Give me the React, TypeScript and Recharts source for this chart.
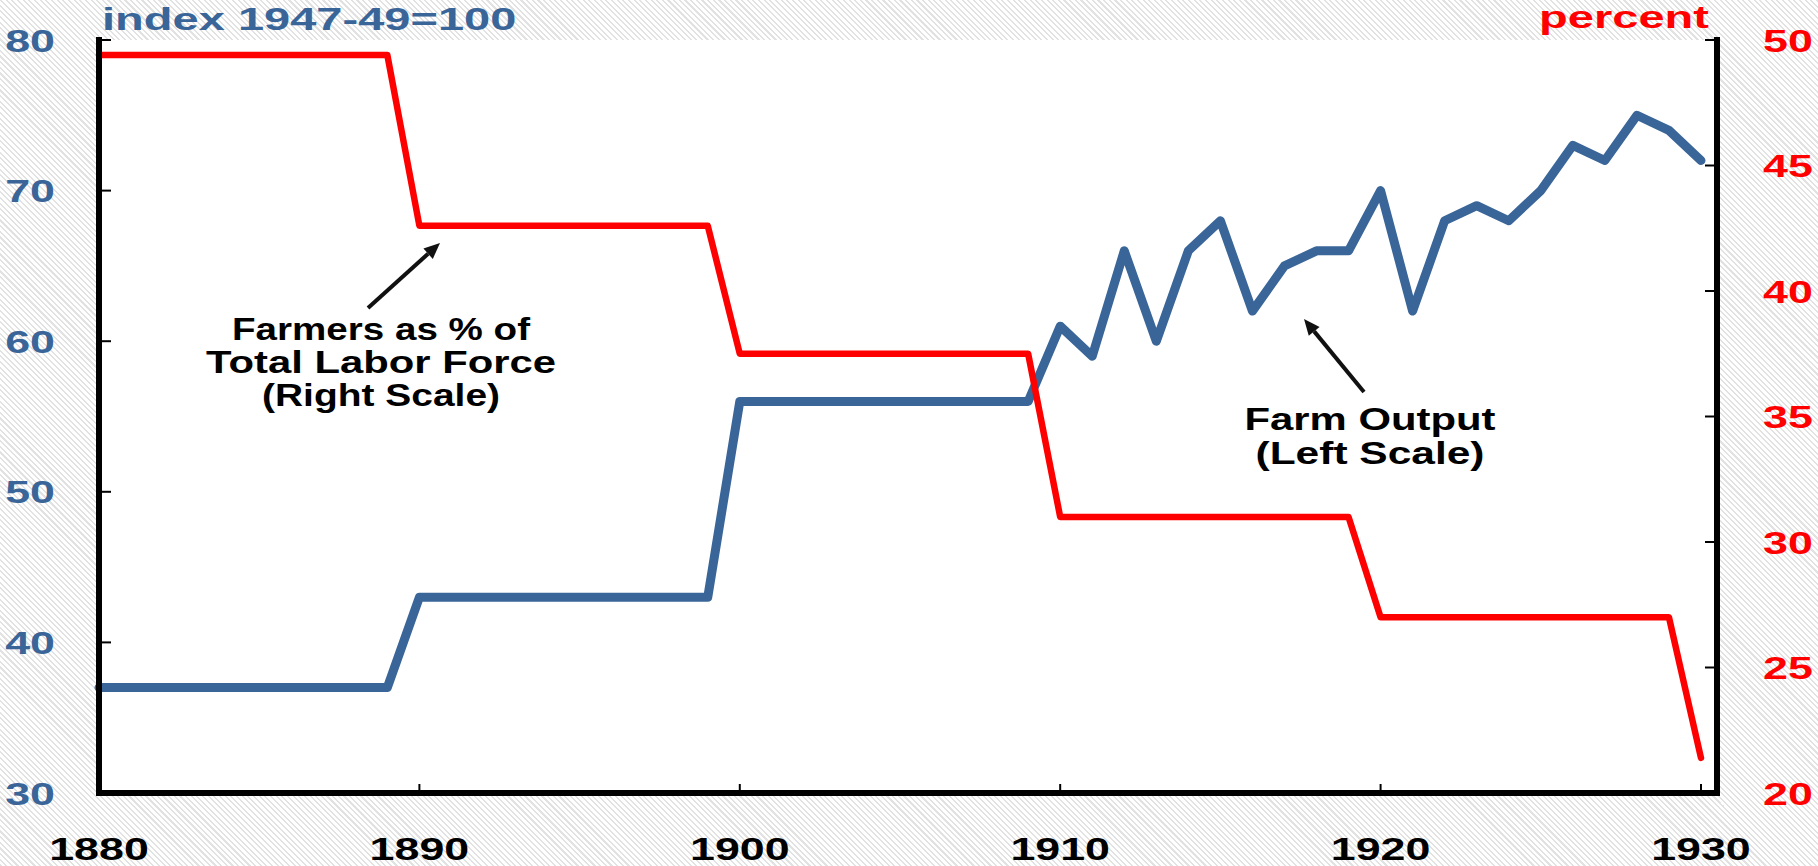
import React from 'react';
import { LineChart, Line, XAxis, YAxis, CartesianGrid } from 'recharts';

const years = [
  1880, 1881, 1882, 1883, 1884, 1885, 1886, 1887, 1888, 1889,
  1890, 1891, 1892, 1893, 1894, 1895, 1896, 1897, 1898, 1899,
  1900, 1901, 1902, 1903, 1904, 1905, 1906, 1907, 1908, 1909,
  1910, 1911, 1912, 1913, 1914, 1915, 1916, 1917, 1918, 1919,
  1920, 1921, 1922, 1923, 1924, 1925, 1926, 1927, 1928, 1929,
  1930,
];

// Farm output, index 1947-49=100 (left scale)
const farmOutput = [
  37, 37, 37, 37, 37, 37, 37, 37, 37, 37,
  43, 43, 43, 43, 43, 43, 43, 43, 43, 43,
  56, 56, 56, 56, 56, 56, 56, 56, 56, 56,
  61, 59, 66, 60, 66, 68, 62, 65, 66, 66,
  70, 62, 68, 69, 68, 70, 73, 72, 75, 74,
  72,
];

// Farmers as % of total labor force (right scale)
const farmersPct = [
  49.4, 49.4, 49.4, 49.4, 49.4, 49.4, 49.4, 49.4, 49.4, 49.4,
  42.6, 42.6, 42.6, 42.6, 42.6, 42.6, 42.6, 42.6, 42.6, 42.6,
  37.5, 37.5, 37.5, 37.5, 37.5, 37.5, 37.5, 37.5, 37.5, 37.5,
  31.0, 31.0, 31.0, 31.0, 31.0, 31.0, 31.0, 31.0, 31.0, 31.0,
  27.0, 27.0, 27.0, 27.0, 27.0, 27.0, 27.0, 27.0, 27.0, 27.0,
  21.4,
];

const xTicks = [1880, 1890, 1900, 1910, 1920, 1930];
const leftTicks = [30, 40, 50, 60, 70, 80];
const rightTicks = [20, 25, 30, 35, 40, 45, 50];

const leftTitle = 'index 1947-49=100';
const rightTitle = 'percent';
const farmersLabel = ['Farmers as % of', 'Total Labor Force', '(Right Scale)'];
const farmersLabelWidths = [298, 350, 238];
const outputLabel = ['Farm Output', '(Left Scale)'];
const outputLabelWidths = [251, 229];

const data = years.map((year, i) => ({ year, output: farmOutput[i], farmers: farmersPct[i] }));

const BLUE = '#3A6598';
const RED = '#FF0000';
const FONT = '"Liberation Sans", Arial, Helvetica, sans-serif';
const SX = 1.4;
const TSX = 1.47;
const FS = 32;

const LM = 44; // left tick margin
const RM = 46; // right tick margin
const BM = 67; // bottom tick margin

const LeftTick = (props: any) => {
  const { x, y, payload } = props;
  const ax = x + LM;
  return (
    <g>
      <line x1={ax} x2={ax + 12} y1={y} y2={y} stroke="#000" strokeWidth={2} />
      <text
        transform={`translate(${x},${y + 11.5}) scale(${SX},1)`}
        textAnchor="end"
        fill={BLUE}
        fontSize={FS}
        fontWeight="bold"
        fontFamily={FONT}
      >
        {payload.value}
      </text>
    </g>
  );
};

const RightTick = (props: any) => {
  const { x, y, payload } = props;
  const ax = x - RM;
  return (
    <g>
      <line x1={ax} x2={ax - 12} y1={y} y2={y} stroke="#000" strokeWidth={2} />
      <text
        transform={`translate(${x},${y + 11.5}) scale(${SX},1)`}
        textAnchor="start"
        fill={RED}
        fontSize={FS}
        fontWeight="bold"
        fontFamily={FONT}
      >
        {payload.value}
      </text>
    </g>
  );
};

const BottomTick = (props: any) => {
  const { x, y, payload } = props;
  const ay = y - BM;
  return (
    <g>
      <line x1={x} x2={x} y1={ay} y2={ay - 9} stroke="#000" strokeWidth={2} />
      <text
        transform={`translate(${x},${y}) scale(${SX},1)`}
        textAnchor="middle"
        fill="#000"
        fontSize={FS}
        fontWeight="bold"
        fontFamily={FONT}
      >
        {payload.value}
      </text>
    </g>
  );
};

const Arrow = ({ x1, y1, x2, y2 }: { x1: number; y1: number; x2: number; y2: number }) => {
  const dx = x2 - x1;
  const dy = y2 - y1;
  const len = Math.sqrt(dx * dx + dy * dy);
  const ux = dx / len;
  const uy = dy / len;
  const hl = 16;
  const hw = 7;
  const bx = x2 - ux * hl;
  const by = y2 - uy * hl;
  const p1 = `${x2},${y2}`;
  const p2 = `${bx - uy * hw},${by + ux * hw}`;
  const p3 = `${bx + uy * hw},${by - ux * hw}`;
  return (
    <g>
      <line x1={x1} y1={y1} x2={bx} y2={by} stroke="#111" strokeWidth={4} />
      <polygon points={`${p1} ${p2} ${p3}`} fill="#111" />
    </g>
  );
};

const axisLine = { stroke: '#000', strokeWidth: 6, strokeLinecap: 'square' as const };

export default function App() {
  return (
    <div
      style={{
        position: 'absolute',
        left: 0,
        top: 0,
        width: 1818,
        height: 866,
        background:
          'repeating-linear-gradient(45deg, #e2e2e2 0px, #e2e2e2 1.5px, #ffffff 1.5px, #ffffff 4px)',
      }}
    >
      <LineChart
        width={1818}
        height={866}
        data={data}
        margin={{ top: 40, right: 11, bottom: 13, left: 9 }}
      >
        <CartesianGrid yAxisId="left" fill="#ffffff" horizontal={false} vertical={false} />
        <XAxis
          dataKey="year"
          type="number"
          domain={[1880, 1930.5]}
          ticks={xTicks}
          interval={0}
          height={60}
          tickSize={0}
          tickMargin={BM}
          tickLine={false}
          tick={BottomTick}
          axisLine={axisLine}
        />
        <XAxis
          xAxisId="top"
          orientation="top"
          dataKey="year"
          type="number"
          domain={[1880, 1930.5]}
          height={0}
          tick={false}
          tickLine={false}
          axisLine={axisLine}
        />
        <YAxis
          yAxisId="left"
          orientation="left"
          type="number"
          domain={[30, 80]}
          ticks={leftTicks}
          interval={0}
          width={90}
          tickSize={0}
          tickMargin={LM}
          tickLine={false}
          tick={LeftTick}
          axisLine={axisLine}
        />
        <YAxis
          yAxisId="right"
          orientation="right"
          type="number"
          domain={[20, 50]}
          ticks={rightTicks}
          interval={0}
          width={90}
          tickSize={0}
          tickMargin={RM}
          tickLine={false}
          tick={RightTick}
          axisLine={axisLine}
        />
        <Line
          yAxisId="left"
          type="linear"
          dataKey="output"
          stroke={BLUE}
          strokeWidth={9}
          strokeLinejoin="round"
          strokeLinecap="round"
          dot={false}
          activeDot={false}
          isAnimationActive={false}
        />
        <Line
          yAxisId="right"
          type="linear"
          dataKey="farmers"
          stroke={RED}
          strokeWidth={6.5}
          strokeLinejoin="round"
          strokeLinecap="round"
          dot={false}
          activeDot={false}
          isAnimationActive={false}
        />
      </LineChart>
      <svg
        width={1818}
        height={866}
        style={{ position: 'absolute', left: 0, top: 0, pointerEvents: 'none' }}
      >
        <text
          transform={`translate(102,30) scale(${TSX},1)`}
          fill={BLUE}
          fontSize={FS}
          fontWeight="bold"
          fontFamily={FONT}
        >
          {leftTitle}
        </text>
        <text
          transform={`translate(1709,28) scale(${TSX},1)`}
          textAnchor="end"
          fill={RED}
          fontSize={FS}
          fontWeight="bold"
          fontFamily={FONT}
        >
          {rightTitle}
        </text>
        {farmersLabel.map((t, i) => (
          <text
            key={t}
            x={381}
            y={340 + i * 33}
            textAnchor="middle"
            textLength={farmersLabelWidths[i]}
            lengthAdjust="spacingAndGlyphs"
            fill="#000"
            fontSize={32}
            fontWeight="bold"
            fontFamily={FONT}
          >
            {t}
          </text>
        ))}
        {outputLabel.map((t, i) => (
          <text
            key={t}
            x={1370}
            y={430 + i * 34}
            textAnchor="middle"
            textLength={outputLabelWidths[i]}
            lengthAdjust="spacingAndGlyphs"
            fill="#000"
            fontSize={32}
            fontWeight="bold"
            fontFamily={FONT}
          >
            {t}
          </text>
        ))}
        <Arrow x1={368} y1={308} x2={440} y2={243} />
        <Arrow x1={1364} y1={392} x2={1304} y2={319} />
      </svg>
    </div>
  );
}
